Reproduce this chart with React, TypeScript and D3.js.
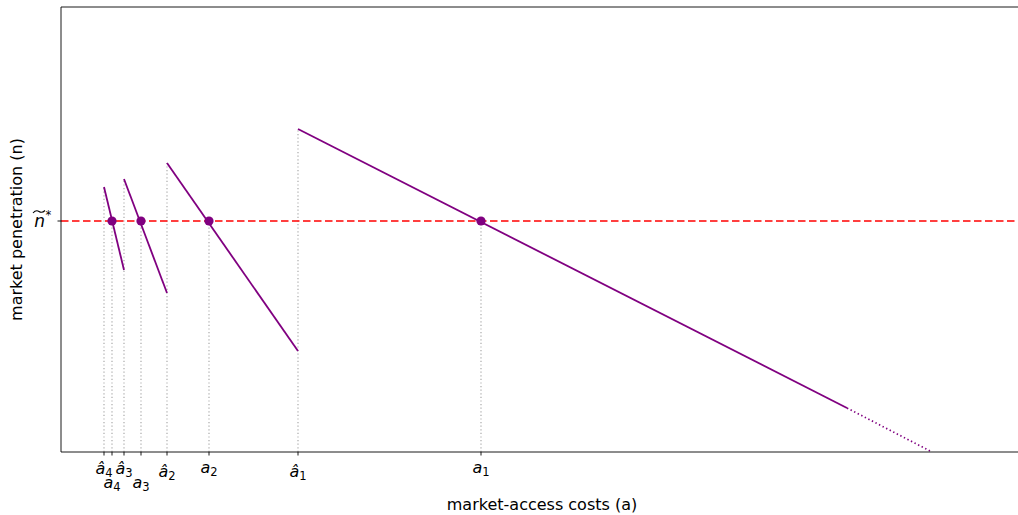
import React from 'react';
import * as d3 from 'd3';

// tick positions on the a-axis (hat = threshold, plain = equilibrium)
const xTicks = [0.43, 0.51, 0.63, 0.8, 1.06, 1.48, 2.37, 4.2];
const tickSub = ['4', '4', '3', '3', '2', '2', '1', '1'];
const tickHat = [true, false, true, false, true, false, true, false];
const tickRow = [0, 1, 0, 1, 0, 0, 0, 0];
// where the dotted guide line stops
const guideTop = [2.65, 2.31, 2.73, 2.31, 2.89, 2.31, 3.23, 2.31];

const nStar = 2.31;

// solid segments
const segX0 = [2.37, 1.06, 0.63, 0.43];
const segY0 = [3.23, 2.89, 2.73, 2.65];
const segX1 = [7.86, 2.37, 1.06, 0.63];
const segY1 = [0.44, 1.01, 1.59, 1.82];

// dotted continuation of the first segment
const extX = [7.86, 8.71];
const extY = [0.44, 0];

// equilibrium points on n*
const eqX = [4.2, 1.48, 0.8, 0.51];

const W = 1018;
const H = 515;
const font = 'DejaVu Sans, sans-serif';

const App = () => {
  const x = d3.scaleLinear().domain([0, 9.62]).range([61, 1023]);
  const y = d3.scaleLinear().domain([0, 4.45]).range([452, 7]);
  const line = d3.line<[number, number]>().x(d => x(d[0])).y(d => y(d[1]));

  const [y0, y1] = y.range();
  const ny = y(nStar);

  return (
    <svg width={W} height={H} style={{ position: 'absolute', left: 0, top: 0, background: '#fff' }}
      fontFamily={font}>
      {/* guide lines */}
      {xTicks.map((t, i) => (
        <line key={'g' + i} x1={x(t)} x2={x(t)} y1={y0} y2={y(guideTop[i])}
          stroke="#aaaaaa" strokeWidth={1.2} strokeDasharray="1.2,2.4" />
      ))}

      {/* n* reference */}
      <line x1={61} x2={W} y1={ny} y2={ny} stroke="#ff0000" strokeWidth={1.7}
        strokeDasharray="7.5,3.5" />

      {/* segments */}
      {segX0.map((sx, i) => (
        <path key={'s' + i} d={line([[sx, segY0[i]], [segX1[i], segY1[i]]]) || ''}
          fill="none" stroke="#800080" strokeWidth={1.8} />
      ))}
      <path d={line(extX.map((v, i) => [v, extY[i]] as [number, number])) || ''}
        fill="none" stroke="#800080" strokeWidth={1.7} strokeDasharray="1.4,2.6" />

      {eqX.map((e, i) => (
        <circle key={'p' + i} cx={x(e)} cy={ny} r={4.6} fill="#800080" />
      ))}

      {/* spines */}
      <line x1={61} x2={61} y1={y0} y2={y1} stroke="#000" strokeWidth={0.9} />
      <line x1={61} x2={1023} y1={y1} y2={y1} stroke="#000" strokeWidth={0.9} />
      <line x1={61} x2={1023} y1={y0} y2={y0} stroke="#000" strokeWidth={0.9} />

      {/* x ticks */}
      {xTicks.map((t, i) => {
        const base = tickRow[i] ? 488 : tickHat[i] ? (i < 4 ? 474 : 477) : 473;
        return (
          <g key={'t' + i}>
            <line x1={x(t)} x2={x(t)} y1={y0} y2={y0 + 3.5} stroke="#000" strokeWidth={0.9} />
            <text x={x(t)} y={base} textAnchor="middle" fontSize={16} fontStyle="italic" fill="#000">
              {tickHat[i] ? 'a\u0302' : 'a'}
              <tspan fontSize={11.5} fontStyle="normal" dy={3}>{tickSub[i]}</tspan>
            </text>
          </g>
        );
      })}

      {/* y tick */}
      <line x1={61} x2={57.5} y1={ny} y2={ny} stroke="#000" strokeWidth={0.9} />
      <text x={45} y={ny + 6} textAnchor="end" fontSize={17} fontStyle="italic" fill="#000">n</text>
      <path d={`M33,${ny - 8} Q36,${ny - 11.5} 39,${ny - 9.5} T45,${ny - 10.5}`} fill="none"
        stroke="#000" strokeWidth={1.1} />
      <text x={45.5} y={ny - 2} fontSize={11.5} fill="#000">*</text>

      {/* axis labels */}
      <text x={542} y={510} textAnchor="middle" fontSize={16} fill="#000">market-access costs (a)</text>
      <text transform={`translate(22,${(y0 + y1) / 2}) rotate(-90)`} textAnchor="middle" fontSize={16}
        fill="#000">market penetration (n)</text>
    </svg>
  );
};

export default App;
